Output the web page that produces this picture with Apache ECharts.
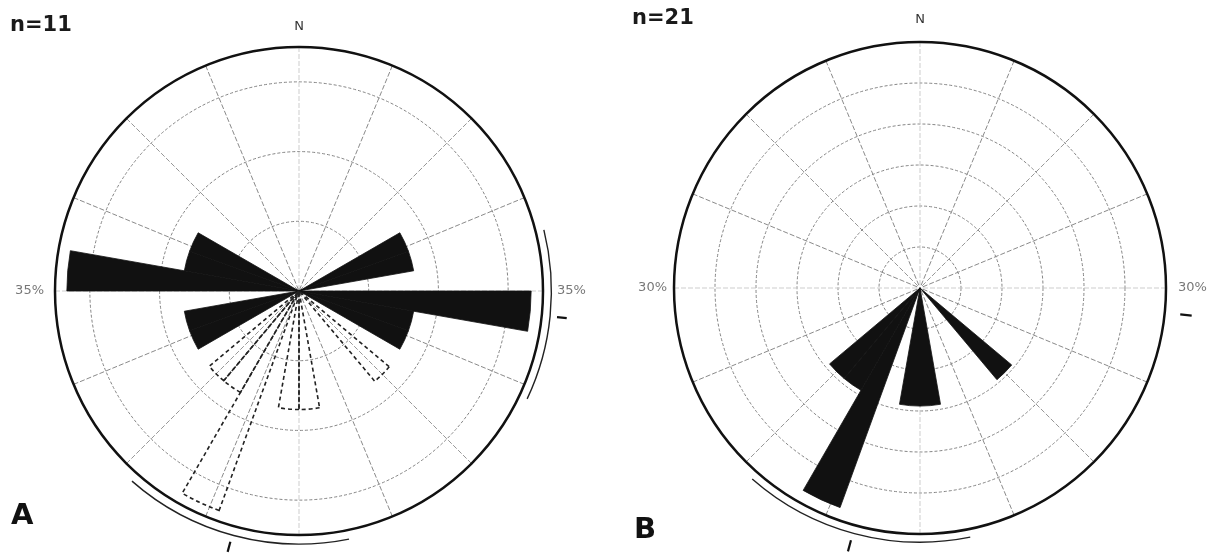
<!DOCTYPE html>
<html>
<head>
<meta charset="utf-8">
<script src="https://cdn.jsdelivr.net/npm/echarts@6/dist/echarts.min.js"></script>
<style>
  html, body { margin: 0; padding: 0; background: #fff; }
  #main { width: 1213px; height: 553px; }
</style>
</head>
<body>
<div id="main"></div>
<script>
// 10 degree bins (start azimuth of each bin, clockwise from N)
var bins = [0, 10, 20, 30, 40, 50, 60, 70, 80, 90, 100, 110, 120, 130, 140, 150, 160, 170,
            180, 190, 200, 210, 220, 230, 240, 250, 260, 270, 280, 290, 300, 310, 320, 330, 340, 350];

// A (n=11): filled petals, % scale of A
var aSolid = ['-', '-', '-', '-', '-', '-', 16.7, 16.7, '-', 33.3, 16.7, 16.7, '-', '-', '-', '-', '-', '-',
              '-', '-', '-', '-', '-', '-', 16.7, 16.7, '-', 33.3, 16.7, 16.7, '-', '-', '-', '-', '-', '-'];
// A: dashed outline petals (B set drawn over A)
var aDashed = ['-', '-', '-', '-', '-', '-', '-', '-', '-', '-', '-', '-', '-', 16.9, '-', '-', '-', 17.0,
               17.0, '-', 33.5, 16.8, 16.8, '-', '-', '-', '-', '-', '-', '-', '-', '-', '-', '-', '-', '-'];
// B (n=21): filled petals, % scale of B
var bSolid = ['-', '-', '-', '-', '-', '-', '-', '-', '-', '-', '-', '-', '-', 14.6, '-', '-', '-', 14.4,
              14.4, '-', 28.5, 14.4, 14.4, '-', '-', '-', '-', '-', '-', '-', '-', '-', '-', '-', '-', '-'];

// arcs outside the circle: [radius, from azimuth, to azimuth]
var aArcs = [[36.2, 76, 115.3], [36.3, 168.6, 221.3]];
var bArcs = [[31.0, 168.6, 221.3]];
// mean direction ticks: [inner radius, outer radius, azimuth]
var aMeans = [[37.2, 38.6, 95.8], [37.3, 38.8, 195.3]];
var bMeans = [[31.9, 33.3, 95.8], [31.9, 33.3, 195.3]];

var aMax = 35, aStep = 10, aLabel = '35%';
var bMax = 30, bStep = 5, bLabel = '30%';

var font = 'DejaVu Sans, Verdana, sans-serif';

function arcItem(params, api) {
  var cs = params.coordSys;
  var r = api.value(0);
  var p0 = api.coord([r, api.value(1)]);
  var p1 = api.coord([r, api.value(2)]);
  return {
    type: 'arc',
    shape: {
      cx: cs.cx, cy: cs.cy,
      r: Math.sqrt((p0[0] - cs.cx) * (p0[0] - cs.cx) + (p0[1] - cs.cy) * (p0[1] - cs.cy)),
      startAngle: Math.atan2(p0[1] - cs.cy, p0[0] - cs.cx),
      endAngle: Math.atan2(p1[1] - cs.cy, p1[0] - cs.cx),
      clockwise: true
    },
    style: { stroke: '#222', lineWidth: 1.4, fill: null }
  };
}

function tickItem(params, api) {
  var p0 = api.coord([api.value(0), api.value(2)]);
  var p1 = api.coord([api.value(1), api.value(2)]);
  return {
    type: 'line',
    shape: { x1: p0[0], y1: p0[1], x2: p1[0], y2: p1[1] },
    style: { stroke: '#111', lineWidth: 2.2 }
  };
}

function gridAngle(idx, margin) {
  return {
    polarIndex: idx, type: 'value', min: 0, max: 360, interval: 22.5,
    startAngle: 90, clockwise: true,
    axisLine: { lineStyle: { color: '#111', width: 2.5 } },
    axisTick: { show: false },
    axisLabel: {
      margin: margin, color: '#333', fontSize: 13, fontFamily: font,
      formatter: function (v) { return v === 0 ? 'N' : ''; }
    },
    splitLine: { lineStyle: { color: ['#cdcdcd', '#8a8a8a', '#979797', '#8a8a8a'], width: 1, type: [5, 2] } }
  };
}
function gridRadius(idx, max, step) {
  return {
    polarIndex: idx, type: 'value', min: 0, max: max, interval: step,
    axisLine: { show: false }, axisTick: { show: false }, axisLabel: { show: false },
    splitLine: { lineStyle: { color: '#858585', width: 1, type: [3, 2] } }
  };
}
function barAngle(idx) {
  return { polarIndex: idx, type: 'category', data: bins, startAngle: 90, clockwise: true, show: false };
}
function barRadius(idx, max) {
  return { polarIndex: idx, type: 'value', min: 0, max: max, show: false };
}
function pctLabels(idx, max, text, distL, distR) {
  return {
    type: 'scatter', coordinateSystem: 'polar', polarIndex: idx, symbolSize: 0, silent: true,
    label: { show: true, formatter: text, color: '#555', fontSize: 13, fontFamily: font },
    data: [
      { value: [max, 90], label: { position: 'right', distance: distR } },
      { value: [max, 270], label: { position: 'left', distance: distL } }
    ]
  };
}

var chart = echarts.init(document.getElementById('main'));
chart.setOption({
  animation: false,
  backgroundColor: '#fff',
  polar: [
    { center: [299, 291], radius: 244 },
    { center: [299, 291], radius: 244 },
    { center: [920, 288], radius: 246 },
    { center: [920, 288], radius: 246 }
  ],
  angleAxis: [gridAngle(0, 14), barAngle(1), gridAngle(2, 16), barAngle(3)],
  radiusAxis: [gridRadius(0, aMax, aStep), barRadius(1, aMax), gridRadius(2, bMax, bStep), barRadius(3, bMax)],
  graphic: [
    { type: 'text', left: 10, top: 15, style: { text: 'n=11', font: 'bold 21px ' + font, fill: '#1a1a1a' } },
    { type: 'text', left: 632, top: 8, style: { text: 'n=21', font: 'bold 21px ' + font, fill: '#1a1a1a' } },
    { type: 'text', left: 11, top: 502, style: { text: 'A', font: 'bold 29px ' + font, fill: '#111' } },
    { type: 'text', left: 634, top: 516, style: { text: 'B', font: 'bold 29px ' + font, fill: '#111' } }
  ],
  series: [
    { type: 'bar', coordinateSystem: 'polar', polarIndex: 1, data: aSolid, barCategoryGap: '0%', barGap: '-100%',
      itemStyle: { color: '#111', borderColor: '#111', borderWidth: 0.8 }, silent: true },
    { type: 'bar', coordinateSystem: 'polar', polarIndex: 1, data: aDashed, barCategoryGap: '0%', barGap: '-100%',
      itemStyle: { color: 'rgba(0,0,0,0)', borderColor: '#222', borderWidth: 1.6, borderType: [4, 3] }, silent: true },
    { type: 'bar', coordinateSystem: 'polar', polarIndex: 3, data: bSolid, barCategoryGap: '0%',
      itemStyle: { color: '#111', borderColor: '#111', borderWidth: 0.8 }, silent: true },
    { type: 'custom', coordinateSystem: 'polar', polarIndex: 0, renderItem: arcItem, data: aArcs, silent: true },
    { type: 'custom', coordinateSystem: 'polar', polarIndex: 0, renderItem: tickItem, data: aMeans, silent: true },
    { type: 'custom', coordinateSystem: 'polar', polarIndex: 2, renderItem: arcItem, data: bArcs, silent: true },
    { type: 'custom', coordinateSystem: 'polar', polarIndex: 2, renderItem: tickItem, data: bMeans, silent: true },
    pctLabels(0, aMax, aLabel, 11, 14),
    pctLabels(2, bMax, bLabel, 7, 12)
  ]
});
</script>
</body>
</html>
